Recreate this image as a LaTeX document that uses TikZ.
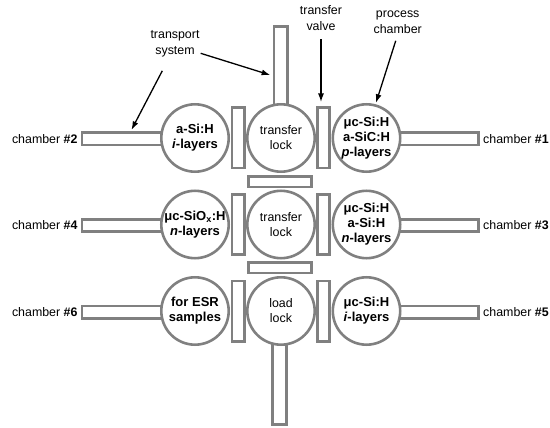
\documentclass[tikz,border=0pt]{standalone}
\usepackage{fontspec}
\setmainfont{Liberation Sans}
\usetikzlibrary{positioning,arrows.meta}
\tikzset{
  part/.style={draw=gray,line width=2.6pt,fill=white,inner sep=0pt},
  chamber/.style={part,circle,minimum size=67.4pt,align=center,font=\fontsize{13}{15}\selectfont\bfseries},
  lock/.style={chamber,font=\fontsize{12.4}{15}\selectfont},
  htube/.style={part,minimum width=82pt,minimum height=12.4pt},
  vtube/.style={part,minimum width=13.7pt,minimum height=84pt},
  vvalve/.style={part,minimum width=12.4pt,minimum height=60.4pt},
  hvalve/.style={part,minimum width=62.8pt,minimum height=10.7pt},
  lbl/.style={inner sep=1pt,align=center,font=\fontsize{12.4}{16}\selectfont},
  ptr/.style={-{Latex[length=8.5pt,width=6pt]},line width=1.3pt},
}

\begin{document}
\begin{tikzpicture}[x=1pt,y=-1pt]
\useasboundingbox (0,0) rectangle (550,428);
% tubes above and below the middle column
\node[vtube] (top) at (280.8,68.5) {};
\node[vtube] (bot) at (279.5,382.5) {};
% one row per pair of chambers
\foreach \r/\y/\nl/\nr/\tl/\tc/\tr in {
  1/138/2/1/{a-Si:H\\\textit{i}-layers}/{transfer\\lock}/{μc-Si:H\\a-SiC:H\\\textit{p}-layers},
  2/224.5/4/3/{μc-SiO\textsubscript{x}:H\\\textit{n}-layers}/{transfer\\lock}/{μc-Si:H\\a-Si:H\\\textit{n}-layers},
  3/311/6/5/{for ESR\\samples}/{load\\lock}/{μc-Si:H\\\textit{i}-layers}}{
  \node[htube] (tl\r) at (123,\y+1) {};
  \node[htube] (tr\r) at (437.7,\y+1) {};
  \node[chamber] (cl\r) at (195,\y) {\tl};
  \node[lock] (cc\r) at (281,\y) {\tc};
  \node[chamber] (cr\r) at (366.5,\y) {\tr};
  \node[vvalve] (vl\r) at (238.2,\y) {};
  \node[vvalve] (vr\r) at (323.4,\y) {};
  \node[lbl,left=2pt of tl\r] (nl\r) {chamber \textbf{\#\nl}};
  \node[lbl,right=2pt of tr\r] (nr\r) {chamber \textbf{\#\nr}};
}
\node[hvalve] (h1) at (280,181.7) {};
\node[hvalve] (h2) at (280,267.8) {};
% labels
\node[lbl] (ts) at (175,43.7) {transport\\system};
\node[lbl] (tv) at (321,18.3) {transfer\\valve};
\node[lbl] (pc) at (397.7,22) {process\\chamber};
\draw[ptr] ([yshift=-9.6pt]ts.east) -- ([xshift=-2.5pt,yshift=-6.5pt]top.west);
\draw[ptr] ([xshift=-12.7pt,yshift=-12.6pt]ts.south) -- ([xshift=8.5pt,yshift=1.7pt]tl1.north);
\draw[ptr,shorten <=7pt,shorten >=4.5pt] (tv.south) -- (tv.south |- vr1.north);
\draw[ptr,shorten <=6.5pt,shorten >=1.5pt] (pc.south) -- (cr1.75);
\end{tikzpicture}
\end{document}
